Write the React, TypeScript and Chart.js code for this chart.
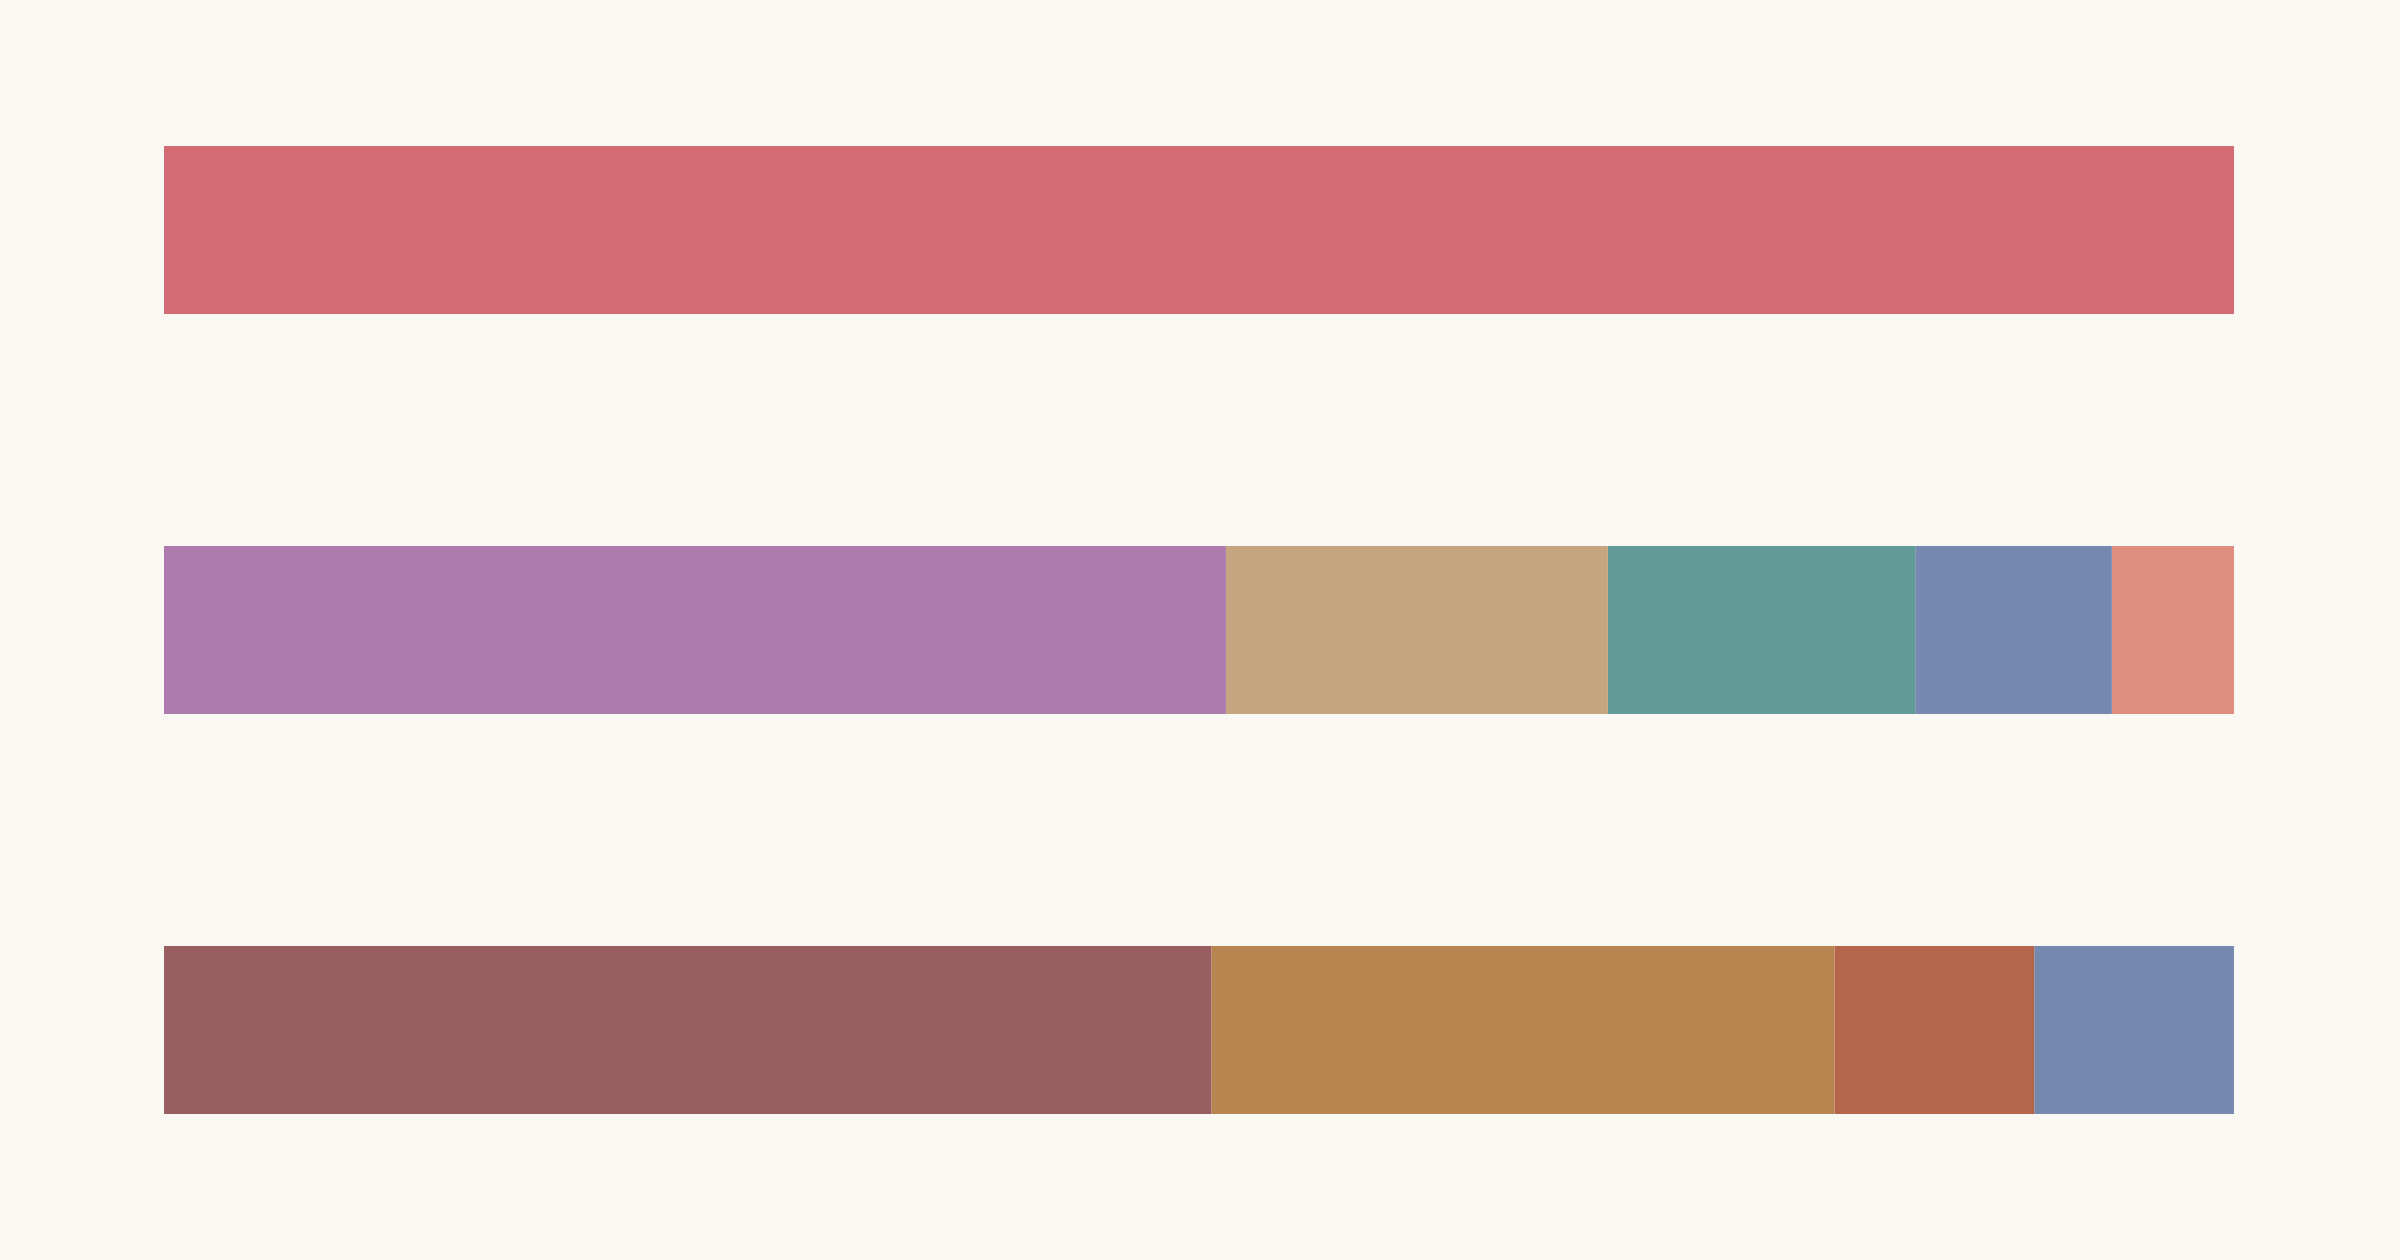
import { useEffect, useRef } from 'react'
import Chart from 'chart.js/auto'
import type { ChartConfiguration } from 'chart.js'

// three rows, each a stacked bar summing to 100
const rows = ['Row 1', 'Row 2', 'Row 3']

// segment values per stack position (null = no segment on that row)
const seg1 = [100, 51.3, 50.6]
const seg2 = [null, 18.45, 30.1]
const seg3 = [null, 14.85, 9.65]
const seg4 = [null, 9.5, 9.65]
const seg5 = [null, 5.9, null]

const seg1Colors = ['#D36C74', '#AD7AAD', '#985E60']
const seg2Colors = ['#C4A57F', '#C4A57F', '#B8844F']
const seg3Colors = ['#619B97', '#619B97', '#B5664A']
const seg4Colors = ['#7588AF', '#7588AF', '#7588AF']
const seg5Colors = ['#DE8E7F', '#DE8E7F', '#DE8E7F']

const BG = '#F9F8F3'

export default function App() {
  const canvasRef = useRef<HTMLCanvasElement>(null)

  useEffect(() => {
    document.body.style.margin = '0'
    document.body.style.background = BG
    if (!canvasRef.current) return

    const segs = [seg1, seg2, seg3, seg4, seg5]
    const colors = [seg1Colors, seg2Colors, seg3Colors, seg4Colors, seg5Colors]

    const config: ChartConfiguration<'bar'> = {
      type: 'bar',
      data: {
        labels: rows,
        datasets: segs.map((data, i) => ({
          label: `Segment ${i + 1}`,
          data: data as (number | null)[],
          backgroundColor: colors[i],
          borderWidth: 0,
          barPercentage: 0.42,
          categoryPercentage: 1,
        })),
      },
      options: {
        indexAxis: 'y',
        responsive: true,
        maintainAspectRatio: false,
        animation: false,
        layout: {
          padding: { left: 164, right: 166, top: 30, bottom: 30 },
        },
        plugins: {
          legend: { display: false },
          tooltip: { enabled: false },
        },
        scales: {
          x: { stacked: true, min: 0, max: 100, display: false },
          y: { stacked: true, display: false },
        },
      },
    }

    const chart = new Chart(canvasRef.current, config)
    return () => chart.destroy()
  }, [])

  return (
    <div style={{ width: 2400, height: 1260, background: BG, position: 'relative' }}>
      <canvas ref={canvasRef} />
    </div>
  )
}
